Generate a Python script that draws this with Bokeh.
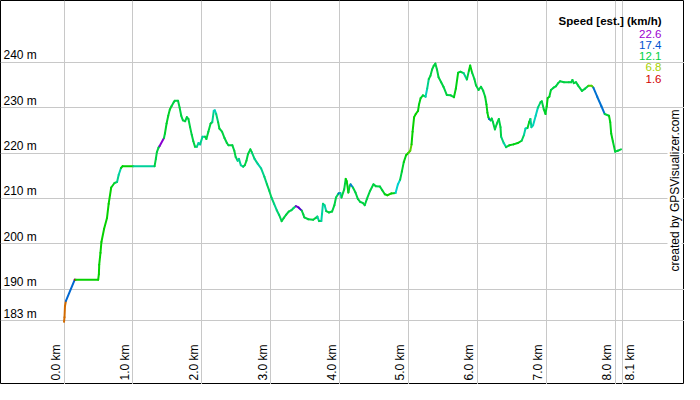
import colorsys
import numpy as np
from bokeh.plotting import figure
from bokeh.models import Range1d, FixedTicker, Label, ColumnDataSource
from bokeh.core.properties import value
from bokeh.embed import file_html
from bokeh.resources import INLINE

# ---------------- data ----------------
dist_km = [0.000, 0.007, 0.014, 0.028, 0.156, 0.170, 0.496, 0.506, 0.511, 0.529,
           0.543, 0.582, 0.624, 0.648, 0.685, 0.733, 0.770, 0.794, 0.827, 0.851,
           1.007, 1.315, 1.333, 1.348, 1.372, 1.386, 1.451, 1.465, 1.489, 1.513,
           1.536, 1.560, 1.593, 1.607, 1.655, 1.678, 1.702, 1.726, 1.759, 1.783,
           1.806, 1.830, 1.854, 1.877, 1.901, 1.929, 1.953, 1.976, 2.010, 2.047,
           2.067, 2.095, 2.128, 2.152, 2.174, 2.189, 2.209, 2.237, 2.255, 2.294,
           2.330, 2.364, 2.387, 2.444, 2.472, 2.492, 2.521, 2.539, 2.567, 2.600,
           2.624, 2.648, 2.671, 2.705, 2.728, 2.766, 2.813, 2.861, 2.908, 2.946,
           2.979, 3.011, 3.050, 3.088, 3.121, 3.159, 3.191, 3.224, 3.262, 3.301,
           3.333, 3.366, 3.404, 3.451, 3.475, 3.489, 3.546, 3.617, 3.655, 3.678,
           3.702, 3.735, 3.759, 3.783, 3.806, 3.844, 3.891, 3.925, 3.948, 3.986,
           4.011, 4.028, 4.067, 4.089, 4.104, 4.128, 4.146, 4.160, 4.194, 4.231,
           4.265, 4.302, 4.336, 4.365, 4.397, 4.444, 4.492, 4.525, 4.586, 4.620,
           4.657, 4.695, 4.752, 4.813, 4.847, 4.879, 4.904, 4.932, 4.965, 4.997,
           5.026, 5.045, 5.060, 5.082, 5.106, 5.139, 5.153, 5.177, 5.210, 5.248,
           5.272, 5.295, 5.319, 5.343, 5.366, 5.390, 5.414, 5.437, 5.475, 5.508,
           5.556, 5.613, 5.660, 5.688, 5.721, 5.755, 5.801, 5.848, 5.877, 5.896,
           5.924, 5.957, 5.981, 6.018, 6.053, 6.085, 6.113, 6.132, 6.146, 6.160,
           6.170, 6.194, 6.209, 6.227, 6.255, 6.284, 6.312, 6.336, 6.345, 6.383,
           6.416, 6.464, 6.525, 6.586, 6.643, 6.677, 6.699, 6.728, 6.752, 6.770,
           6.785, 6.809, 6.847, 6.879, 6.918, 6.936, 6.965, 6.989, 7.007, 7.021,
           7.045, 7.068, 7.106, 7.139, 7.173, 7.201, 7.258, 7.329, 7.362, 7.380,
           7.400, 7.433, 7.461, 7.518, 7.565, 7.613, 7.660, 7.684, 7.740, 7.801,
           7.848, 7.911, 7.929, 7.943, 7.967, 8.000, 8.038, 8.085]

elev_m = [182.8, 183.8, 186.3, 187.4, 192.1, 192.1, 192.1, 193.3, 195.4, 198.0,
          200.4, 203.3, 205.7, 208.8, 212.4, 213.4, 213.6, 215.2, 216.7, 217.1,
          217.1, 217.1, 218.7, 220.2, 221.2, 221.5, 223.3, 224.3, 226.5, 228.2,
          229.6, 230.3, 231.2, 231.5, 231.5, 230.0, 228.2, 227.2, 227.0, 227.9,
          227.5, 225.7, 224.0, 222.6, 221.4, 221.4, 222.2, 221.9, 223.6, 223.6,
          223.1, 224.7, 226.5, 226.8, 229.3, 229.4, 228.6, 226.8, 225.4, 224.7,
          223.3, 222.2, 221.7, 221.7, 220.5, 219.1, 218.3, 218.7, 217.3, 217.0,
          217.3, 218.3, 219.8, 220.8, 220.1, 218.7, 217.6, 216.6, 214.8, 213.1,
          211.7, 210.2, 208.8, 207.4, 206.4, 205.0, 205.7, 206.4, 207.1, 207.4,
          207.9, 208.3, 208.0, 207.3, 206.4, 205.8, 205.4, 205.3, 205.7, 206.0,
          205.0, 205.0, 208.8, 208.5, 207.2, 206.9, 207.1, 208.5, 210.2, 211.1,
          211.2, 210.2, 212.0, 214.3, 213.8, 211.3, 212.7, 213.1, 212.4, 211.3,
          209.9, 209.2, 209.0, 208.5, 209.9, 211.7, 213.1, 212.7, 212.6, 211.8,
          210.9, 210.7, 211.1, 211.2, 213.1, 214.1, 215.9, 218.0, 219.5, 220.0,
          220.5, 221.9, 224.7, 227.9, 228.6, 229.3, 230.7, 232.1, 232.7, 232.4,
          234.2, 236.3, 237.0, 238.4, 239.2, 239.7, 238.4, 236.7, 235.6, 234.6,
          232.8, 232.7, 232.3, 234.2, 237.7, 237.9, 237.6, 236.2, 238.1, 239.3,
          237.7, 236.3, 234.9, 233.9, 234.6, 233.7, 232.4, 230.7, 228.9, 227.9,
          227.5, 227.2, 227.6, 226.8, 225.2, 226.5, 227.5, 225.7, 223.6, 222.2,
          221.3, 221.7, 221.9, 222.2, 222.7, 224.0, 225.4, 225.5, 226.8, 227.5,
          225.7, 226.1, 228.2, 230.0, 231.2, 231.4, 229.6, 228.6, 230.3, 232.1,
          232.4, 233.9, 234.4, 234.7, 235.4, 235.8, 235.6, 235.6, 235.6, 236.1,
          235.4, 235.6, 234.9, 233.7, 234.2, 234.8, 234.8, 234.4, 232.4, 230.3,
          228.6, 228.2, 226.8, 224.3, 222.6, 220.3, 220.5, 220.8]

speed_kmh = [3.8, 3.8, 3.8, 17.0, 1.6, 10.4, 10.4, 10.4, 10.4, 10.4,
             10.4, 10.4, 10.4, 10.4, 11.0, 12.0, 13.5, 14.0, 11.0, 10.6,
             13.8, 12.0, 12.0, 12.0, 12.0, 22.2, 12.0, 11.5, 11.5, 11.5,
             11.5, 12.0, 12.0, 12.0, 12.0, 12.0, 12.0, 12.0, 12.0, 12.0,
             12.0, 12.0, 12.0, 12.0, 12.0, 13.5, 14.0, 13.5, 14.0, 12.0,
             12.0, 12.0, 12.0, 13.5, 14.8, 14.5, 13.0, 12.0, 12.0, 12.0,
             12.0, 12.0, 12.0, 12.0, 12.0, 12.5, 14.0, 13.5, 14.0, 12.5,
             12.0, 12.0, 12.0, 12.0, 13.0, 13.5, 14.0, 13.5, 13.0, 12.5,
             12.5, 13.0, 13.5, 13.0, 12.5, 12.0, 12.0, 12.0, 12.0, 12.5,
             13.0, 22.0, 21.0, 12.0, 12.0, 12.0, 12.0, 12.0, 12.0, 14.0,
             12.0, 14.0, 13.0, 14.0, 12.0, 12.0, 12.0, 12.0, 12.5, 17.0,
             14.0, 12.0, 12.0, 10.8, 10.8, 11.5, 12.0, 16.5, 12.0, 12.0,
             12.0, 12.0, 12.0, 12.0, 12.0, 12.0, 12.0, 12.0, 12.0, 11.5,
             11.0, 10.2, 11.0, 14.8, 14.8, 12.0, 11.5, 11.0, 10.5, 9.0,
             8.5, 10.4, 10.4, 10.4, 10.4, 10.8, 11.0, 11.5, 12.0, 14.5,
             13.5, 12.0, 12.0, 12.0, 12.0, 12.0, 12.0, 12.0, 12.0, 12.0,
             12.0, 12.0, 11.0, 11.0, 11.5, 12.0, 13.5, 12.0, 11.0, 11.0,
             12.0, 12.0, 12.0, 12.0, 12.0, 12.0, 11.5, 11.0, 11.0, 11.0,
             17.0, 12.0, 12.0, 12.0, 12.0, 12.0, 12.0, 12.0, 13.0, 14.0,
             12.0, 11.0, 11.0, 11.0, 12.5, 14.0, 14.5, 11.5, 11.0, 13.5,
             14.0, 14.5, 14.5, 13.0, 12.0, 12.0, 11.5, 11.5, 11.0, 11.0,
             11.5, 12.0, 12.0, 12.0, 12.0, 12.0, 12.0, 12.0, 12.0, 12.0,
             12.0, 12.0, 12.0, 12.0, 12.0, 9.0, 8.5, 16.8, 16.8, 16.8,
             12.0, 11.0, 11.0, 11.0, 11.5, 12.0, 12.0, 12.0]

y_ticks = [183, 190, 200, 210, 220, 230, 240]
y_tick_labels = ["183 m", "190 m", "200 m", "210 m", "220 m", "230 m", "240 m"]
x_ticks = [0.0, 1.0, 2.0, 3.0, 4.0, 5.0, 6.0, 7.0, 8.0, 8.1]
x_tick_labels = ["0.0 km", "1.0 km", "2.0 km", "3.0 km", "4.0 km", "5.0 km",
                 "6.0 km", "7.0 km", "8.0 km", "8.1 km"]
legend_title = "Speed [est.] (km/h)"
legend_values = [22.6, 17.4, 12.1, 6.8, 1.6]
legend_hues = [285, 216, 140, 72, 0]
credit_text = "created by GPSVisualizer.com"

# ---------------- style ----------------
W, H = 684, 384
FONT = "Liberation Sans"
GRID = "#c8c8c8"


def speed_color(s):
    vals = legend_values[::-1]
    hues = legend_hues[::-1]
    h = float(np.interp(s, vals, hues)) / 360.0
    r, g, b = colorsys.hsv_to_rgb(h, 1.0, 0.82)
    return "#%02x%02x%02x" % (int(r * 255), int(g * 255), int(b * 255))


p = figure(width=W, height=H, output_backend="svg", toolbar_location=None,
           title=None, x_axis_location=None, y_axis_location=None,
           x_range=Range1d(-0.922, 9.007), y_range=Range1d(169.0, 253.6),
           min_border=0, background_fill_color="white",
           border_fill_color="white")
p.outline_line_color = "black"
p.outline_line_width = 1

p.xgrid.ticker = FixedTicker(ticks=x_ticks)
p.ygrid.ticker = FixedTicker(ticks=y_ticks)
for g in (p.xgrid, p.ygrid):
    g.grid_line_color = GRID
    g.grid_line_width = 1
    g.grid_line_alpha = 1.0

# profile segments coloured by speed
seg = ColumnDataSource(dict(
    x0=dist_km[:-1], y0=elev_m[:-1], x1=dist_km[1:], y1=elev_m[1:],
    c=[speed_color(s) for s in speed_kmh[:-1]],
))
p.segment("x0", "y0", "x1", "y1", source=seg, line_color="c",
          line_width=2, line_cap="round")

# y tick labels
ysrc = ColumnDataSource(dict(x=[p.x_range.start] * len(y_ticks), y=y_ticks,
                             t=y_tick_labels))
p.text("x", "y", text="t", source=ysrc, x_offset=3, y_offset=0,
       text_font=value(FONT), text_font_size="12px", text_color="black",
       text_align="left", text_baseline="bottom")

# x tick labels (rotated); the last one sits to the right of its grid line
xsrc = ColumnDataSource(dict(x=x_ticks[:-1],
                             y=[p.y_range.start] * (len(x_ticks) - 1),
                             t=x_tick_labels[:-1]))
p.text("x", "y", text="t", source=xsrc, x_offset=-1, y_offset=-4,
       angle=np.pi / 2, text_font=value(FONT), text_font_size="12px",
       text_color="black", text_align="left", text_baseline="bottom")
xsrc2 = ColumnDataSource(dict(x=x_ticks[-1:], y=[p.y_range.start],
                              t=x_tick_labels[-1:]))
p.text("x", "y", text="t", source=xsrc2, x_offset=1, y_offset=-4,
       angle=np.pi / 2, text_font=value(FONT), text_font_size="12px",
       text_color="black", text_align="left", text_baseline="top")

# legend
lx = W - 23
p.add_layout(Label(x=lx, y=H - 20, x_units="screen", y_units="screen",
                   text=legend_title, text_font=FONT, text_font_size="11.5px",
                   text_font_style="bold", text_color="black",
                   text_align="right", text_baseline="middle"))
for i, v in enumerate(legend_values):
    p.add_layout(Label(x=lx, y=H - 33 - i * 11.3, x_units="screen",
                       y_units="screen", text=f"{v:.1f}", text_font=FONT,
                       text_font_size="11.5px", text_color=speed_color(v),
                       text_align="right", text_baseline="middle"))

# credit
p.add_layout(Label(x=W - 3, y=H - 190, x_units="screen", y_units="screen",
                   text=credit_text, angle=np.pi / 2, text_font=FONT,
                   text_font_size="12px", text_color="black",
                   text_align="center", text_baseline="bottom",
                   background_fill_color="white"))

open("out.html", "w").write(file_html(p, INLINE))
